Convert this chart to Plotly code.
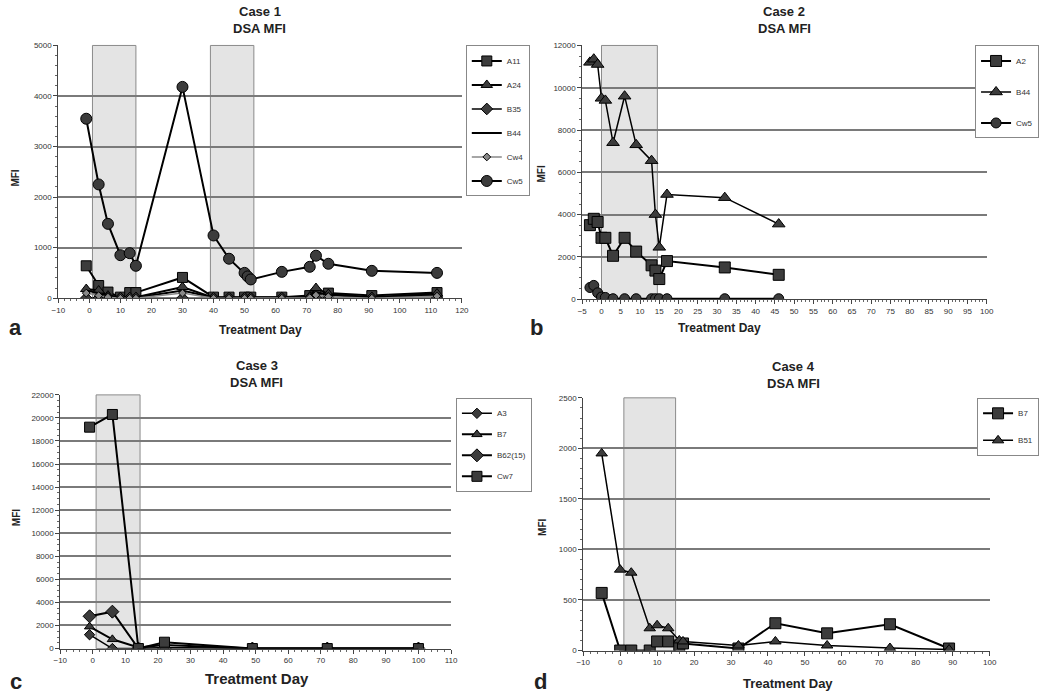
import plotly.graph_objects as go

# ---------------- DATA ----------------
# Case 1
c1_cw5_x = [-1, 3, 6, 10, 13, 15, 30, 40, 45, 50, 51, 52, 62, 71, 73, 77, 91, 112]
c1_cw5_y = [3550, 2250, 1470, 850, 890, 640, 4180, 1240, 780, 500, 430, 370, 520, 620, 840, 680, 540, 500]
c1_x = [-1, 3, 6, 10, 13, 15, 30, 40, 45, 50, 52, 62, 71, 73, 77, 91, 112]
c1_a11 = [640, 250, 120, 20, 110, 110, 410, 20, 20, 20, 20, 20, 50, 80, 100, 50, 110]
c1_a24 = [180, 150, 50, 20, 20, 20, 220, 10, 10, 10, 10, 10, 30, 200, 80, 20, 90]
c1_b35 = [0, 0, 0, 0, 0, 0, 0, 0, 0, 0, 0, 0, 0, 0, 0, 0, 0]
c1_b44 = [150, 100, 30, 10, 10, 10, 150, 10, 10, 10, 10, 10, 20, 120, 60, 10, 60]
c1_cw4 = [100, 50, 20, 0, 0, 0, 100, 0, 0, 0, 0, 0, 10, 60, 30, 0, 40]

# Case 2
c2_x = [-3, -2, -1, 0, 1, 3, 6, 9, 13, 14, 15, 17, 32, 46]
c2_a2 = [3500, 3800, 3650, 2900, 2900, 2050, 2900, 2250, 1600, 1350, 950, 1800, 1500, 1150]
c2_b44 = [11200, 11350, 11100, 9500, 9400, 7400, 9600, 7300, 6550, 4000, 2450, 4950, 4800, 3550]
c2_cw5 = [550, 650, 300, 100, 80, 20, 20, 20, 20, 20, 20, 20, 20, 20]

# Case 3
c3_x = [-1, 6, 14, 22, 49, 72, 100]
c3_a3 = [1200, 0, 0, 100, 0, 0, 0]
c3_b7 = [1900, 800, 100, 300, 0, 0, 0]
c3_b62 = [2800, 3200, 0, 0, 0, 0, 0]
c3_cw7 = [19200, 20300, 0, 550, 0, 0, 0]

# Case 4
c4_x = [-5, 0, 3, 8, 10, 13, 16, 17, 32, 42, 56, 73, 89]
c4_b7 = [570, 0, 0, 0, 90, 90, 50, 70, 20, 270, 170, 260, 20]
c4_b51 = [1950, 800, 770, 220, 250, 220, 100, 90, 50, 90, 50, 25, 10]

# treatment windows (shaded)
c1_windows = [(1, 15), (39, 53)]
c2_windows = [(0, 14.5)]
c3_windows = [(1, 14.5)]
c4_windows = [(1, 15)]

FONT = "Arial, Liberation Sans, sans-serif"
W, H = 1050, 696

def px_x(p):
    return p / W

def px_y(p):
    return 1 - p / H

fig = go.Figure()

MFILL = "#3c3c3c"

def add(x, y, name, sym, size, xa, ya, legend, color="black", width=2, mode="lines+markers", dash="solid"):
    fig.add_trace(go.Scatter(
        x=x, y=y, name=name, mode=mode, xaxis=xa, yaxis=ya, legend=legend,
        legendgroup=legend + name,
        line=dict(color=color, width=width, dash=dash),
        marker=dict(symbol=sym, size=size, color=MFILL if color == "black" else color,
                    line=dict(color="black", width=1)),
    ))

# Case 1
add(c1_x, c1_a11, "A11", "square", 10, "x", "y", "legend")
add(c1_x, c1_a24, "A24", "triangle-up", 10, "x", "y", "legend")
add(c1_x, c1_b35, "B35", "diamond", 9, "x", "y", "legend", width=1.5)
add(c1_x, c1_b44, "B44", "circle", 1, "x", "y", "legend", mode="lines", width=2)
add(c1_x, c1_cw4, "Cw4", "diamond", 6, "x", "y", "legend", color="#888888", width=1.5)
add(c1_cw5_x, c1_cw5_y, "Cw5", "circle", 11, "x", "y", "legend")

# Case 2
add(c2_x, c2_a2, "A2", "square", 11, "x2", "y2", "legend2")
add(c2_x, c2_b44, "B44", "triangle-up", 11, "x2", "y2", "legend2", width=1.5)
add(c2_x, c2_cw5, "Cw5", "circle", 10, "x2", "y2", "legend2")

# Case 3
add(c3_x, c3_a3, "A3", "diamond", 8, "x3", "y3", "legend3", width=1.5)
add(c3_x, c3_b7, "B7", "triangle-up", 9, "x3", "y3", "legend3")
add(c3_x, c3_b62, "B62(15)", "diamond", 10, "x3", "y3", "legend3")
add(c3_x, c3_cw7, "Cw7", "square", 10, "x3", "y3", "legend3")

# Case 4
add(c4_x, c4_b7, "B7", "square", 11, "x4", "y4", "legend4")
add(c4_x, c4_b51, "B51", "triangle-up", 10, "x4", "y4", "legend4", width=1.5)

# ------------- axes -------------
panels = {
    "1": dict(xd=(52, 461), yd=(42, 298), xr=(-10, 120), xdt=10, xminor=2, yr=(0, 5000), ydt=1000, yminor=200),
    "2": dict(xd=(583, 993), yd=(42, 299), xr=(-5, 100), xdt=5, xminor=1, yr=(0, 12000), ydt=2000, yminor=500),
    "3": dict(xd=(54, 450), yd=(396, 653), xr=(-10, 110), xdt=10, xminor=2, yr=(0, 22000), ydt=2000, yminor=500),
    "4": dict(xd=(584, 996), yd=(399, 655), xr=(-10, 100), xdt=10, xminor=2, yr=(0, 2500), ydt=500, yminor=100),
}

layout = dict(
    width=W, height=H, margin=dict(l=0, r=0, t=0, b=0),
    paper_bgcolor="white", plot_bgcolor="white",
    font=dict(family=FONT, color="#222"),
)

tickfont = dict(family=FONT, size=8, color="#333")
for k, p in panels.items():
    sfx = "" if k == "1" else k
    layout["xaxis" + sfx] = dict(
        domain=[px_x(p["xd"][0]), px_x(p["xd"][1])],
        anchor="y" + sfx, range=list(p["xr"]), dtick=p["xdt"], tick0=0, tickformat="d",
        showgrid=False, zeroline=False, showline=True, linecolor="#444", linewidth=1,
        ticks="outside", ticklen=4, tickcolor="#444", tickfont=tickfont,
        minor=dict(dtick=p["xminor"], ticks="outside", ticklen=2, tickcolor="#666"),
        fixedrange=True,
    )
    layout["yaxis" + sfx] = dict(
        domain=[px_y(p["yd"][1]), px_y(p["yd"][0])],
        anchor="x" + sfx, range=list(p["yr"]), dtick=p["ydt"], tick0=0, tickformat="d",
        showgrid=True, gridcolor="#7a7a7a", gridwidth=1.5, zeroline=False,
        showline=True, linecolor="#444", linewidth=1,
        ticks="outside", ticklen=4, tickcolor="#444", tickfont=tickfont,
        minor=dict(dtick=p["yminor"], ticks="outside", ticklen=2, tickcolor="#666"),
        fixedrange=True,
    )

# ------------- shaded treatment windows -------------
shapes = []
for k, wins in (("", c1_windows), ("2", c2_windows), ("3", c3_windows), ("4", c4_windows)):
    for (a, b) in wins:
        shapes.append(dict(type="rect", xref="x" + k, yref=("y" + k) + " domain",
                           x0=a, x1=b, y0=0, y1=1, fillcolor="#e4e4e4",
                           line=dict(color="#8a8a8a", width=1), layer="below"))
layout["shapes"] = shapes

# ------------- legends -------------
def leg(x, y, gap, xanchor="left", size=8):
    return dict(x=px_x(x), y=px_y(y), xanchor=xanchor, yanchor="top",
                bgcolor="white", bordercolor="#888", borderwidth=1,
                font=dict(family=FONT, size=size, color="#333"),
                tracegroupgap=gap, itemwidth=30, traceorder="grouped")

layout["legend"] = leg(465, 42, 5)
layout["legend2"] = leg(1046, 42, 12, xanchor="right")
layout["legend3"] = leg(455, 399, 2)
layout["legend4"] = leg(1046, 399, 8, xanchor="right")
layout["showlegend"] = True

# ------------- annotations -------------
ann = []
def text(x, y, s, size, bold=True, angle=0, xanchor="center"):
    ann.append(dict(x=px_x(x), y=px_y(y), xref="paper", yref="paper", text=("<b>%s</b>" % s) if bold else s,
                    showarrow=False, font=dict(family=FONT, size=size, color="#222"),
                    textangle=angle, xanchor=xanchor, yanchor="middle"))

titles = [("Case 1", 256, 8, 25), ("Case 2", 788, 8, 25), ("Case 3", 253, 366, 383), ("Case 4", 797, 367, 384)]
for t, x, y1, y2 in titles:
    text(x, y1, t, 13)
    text(x, y2, "DSA MFI", 13)

text(9, 176, "MFI", 10, angle=-90)
text(542, 172, "MFI", 10, angle=-90)
text(9, 520, "MFI", 10, angle=-90)
text(542, 530, "MFI", 10, angle=-90)

text(257, 330, "Treatment Day", 12)
text(722, 328, "Treatment Day", 12)
text(253, 683, "Treatment Day", 15)
text(792, 688, "Treatment Day", 13)

text(9, 328, "a", 22)
text(537, 328, "b", 22)
text(9, 686, "c", 22)
text(541, 686, "d", 22)

layout["annotations"] = ann

fig.update_layout(**layout)
fig.write_html("out.html", config={"displayModeBar": False},
               post_script="document.body.style.margin='0px';document.body.style.overflow='hidden';")
